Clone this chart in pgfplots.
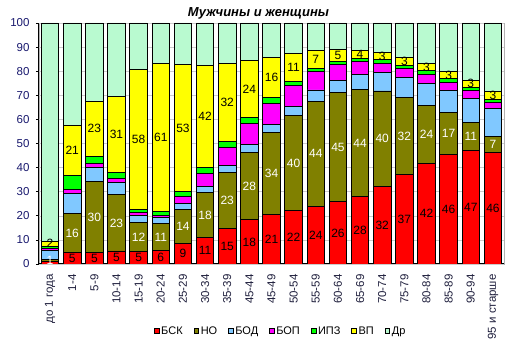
\documentclass[border=0pt]{standalone}
\usepackage{pgfplots}
\pgfplotsset{compat=1.18}
\usepackage{pgfplotstable}
\usepackage{fontspec}
\setmainfont{Liberation Sans}

\definecolor{cBSK}{RGB}{255,0,0}
\definecolor{cNO}{RGB}{128,128,0}
\definecolor{cBOD}{RGB}{128,200,255}
\definecolor{cBOP}{RGB}{255,0,255}
\definecolor{cIPZ}{RGB}{0,255,0}
\definecolor{cVP}{RGB}{255,255,0}
\definecolor{cDR}{RGB}{185,250,208}
\definecolor{cTick}{RGB}{25,25,110}
\definecolor{cXTick}{RGB}{30,30,60}

\pgfplotstableread{
x bsk no bod bop ipz vp dr lbsk lno lvp
0 1.2 0.8 3.6 0.8 1.0 2.0 90.6 1 1 2
1 4.8 16.0 8.5 1.5 6.0 20.8 42.4 5 16 21
2 4.6 29.6 5.8 1.7 3.0 22.8 32.5 5 30 23
3 5.4 23.3 5.3 1.6 2.5 31.5 30.4 5 23 31
4 5.2 11.9 3.1 1.2 1.3 58.1 19.2 5 12 58
5 5.8 10.9 2.5 1.1 1.6 61.4 16.7 6 11 61
6 8.6 13.9 2.8 2.9 1.9 52.7 17.2 9 14 53
7 11.1 18.4 2.8 5.4 2.2 42.4 17.7 11 18 42
8 14.6 23.2 3.0 7.7 2.3 32.4 16.8 15 23 32
9 18.3 28.0 3.1 8.9 2.4 23.9 15.4 18 28 24
10 20.6 34.0 3.2 8.9 2.5 16.6 14.2 21 34 16
11 22.1 39.6 3.7 8.8 1.6 11.4 12.8 22 40 11
12 23.8 43.8 4.6 7.6 1.3 7.4 11.5 24 44 7
13 25.8 45.4 5.0 6.7 1.3 4.8 11.0 26 45 5
14 27.9 44.4 6.3 5.4 1.1 3.6 11.3 28 44 4
15 32.1 39.7 7.5 4.0 1.4 3.2 12.1 32 40 3
16 37.1 32.1 8.3 3.6 1.1 3.4 14.4 37 32 3
17 41.9 23.9 9.2 3.8 1.5 2.9 16.8 42 24 3
18 45.6 17.1 9.2 3.5 1.4 3.2 20.0 46 17 3
19 47.1 11.7 9.9 3.2 1.4 3.0 23.7 47 11 3
20 46.3 6.8 11.6 2.4 1.2 3.2 28.5 46 7 3
}\data

\pgfplotsset{
  common/.style={
    width=465pt, height=241pt, scale only axis,
    xmin=-0.5, xmax=20.5, ymin=0, ymax=100,
  },
  lbl/.style={
    draw=none, mark=none, nodes near coords,
    point meta=explicit symbolic,
    nodes near coords align=center,
    every node near coord/.append style={font=\fontsize{12}{13}\selectfont, inner sep=0pt},
  },
}

\begin{document}
\begin{tikzpicture}
\useasboundingbox (-39pt,-88pt) rectangle (478pt,264pt);
\begin{axis}[common,
  ybar stacked, bar width=17.5pt,
  axis background/.style={draw=gray!60, line width=0.6pt},
  axis x line*=bottom, axis y line*=left,
  axis line style={black, line width=1pt},
  ymajorgrids, grid style={gray!40, line width=0.5pt},
  ytick={0,10,...,100},
  xtick={0,...,20},
  xticklabels={до 1 года,1-4,5-9,10-14,15-19,20-24,25-29,30-34,35-39,45-44,45-49,50-54,55-59,60-64,65-69,70-74,75-79,80-84,85-89,90-94,95 и старше},
  xticklabel style={rotate=90, anchor=east, font=\fontsize{11.5}{12}\selectfont, text=cXTick, xshift=-4pt},
  yticklabel style={font=\fontsize{11.5}{12}\selectfont, text=cTick, xshift=-3pt},
  /pgf/number format/assume math mode=true,
  xtick style={draw=none},
  ytick style={draw=black, line width=0.6pt},
  tick align=outside, major tick length=3pt,
  title={\textbf{\textit{Мужчины и женщины}}},
  title style={at={(0.472,1)}, anchor=center, yshift=4pt, font=\fontsize{13}{14}\selectfont},
  legend style={at={(0.52,-0.278)}, anchor=center, draw=none, fill=none,
    legend columns=7, font=\fontsize{11}{12}\selectfont,
    /tikz/every even column/.append style={column sep=9pt},
    inner sep=0pt},
  legend image code/.code={\draw[#1, draw=black, line width=0.5pt] (0pt,-2.3pt) rectangle (4.6pt,2.3pt);},
  every axis plot/.append style={draw=black, line width=0.9pt},
]
\addplot[fill=cBSK] table[x=x,y=bsk]{\data};
\addplot[fill=cNO] table[x=x,y=no]{\data};
\addplot[fill=cBOD] table[x=x,y=bod]{\data};
\addplot[fill=cBOP] table[x=x,y=bop]{\data};
\addplot[fill=cIPZ] table[x=x,y=ipz]{\data};
\addplot[fill=cVP] table[x=x,y=vp]{\data};
\addplot[fill=cDR] table[x=x,y=dr]{\data};
\legend{БСК,НО,БОД,БОП,ИПЗ,ВП,Др}
\end{axis}
\begin{axis}[common, hide axis, clip=false]
\addplot[lbl, skip coords between index={0}{1}, every node near coord/.append style={text=black}] table[x=x, y expr=\thisrow{bsk}/2, meta=lbsk]{\data};
\addplot[lbl, every node near coord/.append style={text=white}] table[x=x, y expr=\thisrow{bsk}+\thisrow{no}/2, meta=lno]{\data};
\addplot[lbl, every node near coord/.append style={text=black}] table[x=x, y expr=\thisrow{bsk}+\thisrow{no}+\thisrow{bod}+\thisrow{bop}+\thisrow{ipz}+\thisrow{vp}/2, meta=lvp]{\data};
\end{axis}
\end{tikzpicture}
\end{document}
